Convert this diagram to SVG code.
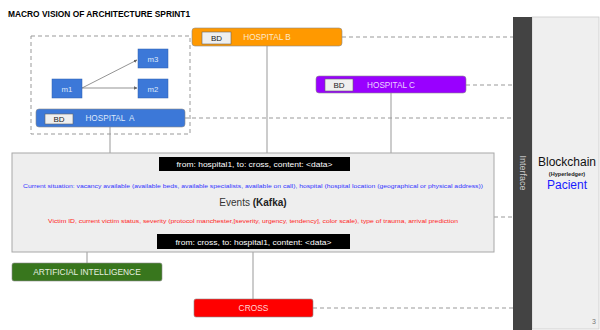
<svg xmlns="http://www.w3.org/2000/svg" width="600" height="330" viewBox="0 0 600 330">
  <defs>
    <style>
      text { font-family: "Liberation Sans", Arial, sans-serif; }
      .dash { stroke: #999999; stroke-width: 1; stroke-dasharray: 4 3; fill: none; }
      .link { stroke: #999999; stroke-width: 1; fill: none; }
      .box { stroke: #8a8a8a; stroke-width: 0.6; }
      .bd { fill: #efefef; stroke: #666666; stroke-width: 0.6; }
      .bdt { font-size: 8px; fill: #222222; text-anchor: middle; }
      .lbl { font-size: 8.2px; text-anchor: middle; }
      .mod { fill: #3c78d8; stroke: #2f5fae; stroke-width: 0.5; }
      .modt { font-size: 7.8px; fill: #dce8fb; text-anchor: middle; }
      .bar { fill: #000000; }
      .bart { font-size: 8px; fill: #ffffff; text-anchor: middle; }
    </style>
    <marker id="arr" viewBox="0 0 6 6" refX="5.5" refY="3" markerWidth="5" markerHeight="5" orient="auto">
      <path d="M0,0 L6,3 L0,6 z" fill="#666666"/>
    </marker>
  </defs>

  <rect width="600" height="330" fill="#ffffff"/>

  <!-- title -->
  <text x="8" y="17" font-size="8.4" font-weight="bold" fill="#000000">MACRO VISION OF ARCHITECTURE SPRINT1</text>

  <!-- connectors -->
  <g id="connectors">
    <rect x="31" y="36" width="159" height="98" class="dash"/>
    <line x1="342" y1="37" x2="513" y2="37" class="dash"/>
    <line x1="466" y1="85" x2="513" y2="85" class="dash"/>
    <line x1="185" y1="118" x2="513" y2="118" class="dash"/>
    <line x1="494" y1="217" x2="513" y2="217" class="dash"/>
    <line x1="313" y1="308" x2="513" y2="308" class="dash"/>
    <line x1="110" y1="127" x2="110" y2="153" class="link"/>
    <line x1="267" y1="46" x2="267" y2="153" class="link"/>
    <line x1="391" y1="93" x2="391" y2="153" class="link"/>
    <line x1="87" y1="252" x2="87" y2="263" class="link"/>
    <line x1="253" y1="252" x2="253" y2="299" class="link"/>
    <line x1="82" y1="88" x2="137" y2="60" stroke="#666666" stroke-width="0.7" marker-end="url(#arr)"/>
    <line x1="82" y1="88" x2="137" y2="88" stroke="#666666" stroke-width="0.7" marker-end="url(#arr)"/>
  </g>

  <!-- modules inside hospital A -->
  <g id="m1">
    <rect x="52" y="79" width="30" height="19" class="mod"/>
    <text x="67" y="91.5" class="modt">m1</text>
  </g>
  <g id="m3">
    <rect x="138" y="49" width="30" height="19" class="mod"/>
    <text x="153" y="61.5" class="modt">m3</text>
  </g>
  <g id="m2">
    <rect x="138" y="79" width="30" height="19" class="mod"/>
    <text x="153" y="91.5" class="modt">m2</text>
  </g>

  <!-- hospitals -->
  <g id="hospital-a">
    <rect x="36" y="109" width="149" height="18" rx="3" fill="#3c78d8" class="box"/>
    <rect x="45" y="114" width="28" height="10" class="bd"/>
    <text x="59" y="122" class="bdt">BD</text>
    <text x="110" y="121" class="lbl" fill="#dce8fb" xml:space="preserve">HOSPITAL  A</text>
  </g>
  <g id="hospital-b">
    <rect x="192" y="28" width="150" height="18" rx="3" fill="#ff9900" class="box"/>
    <rect x="202" y="32" width="29" height="12" class="bd"/>
    <text x="216.5" y="41" class="bdt">BD</text>
    <text x="267" y="40" class="lbl" fill="#fde9cc">HOSPITAL B</text>
  </g>
  <g id="hospital-c">
    <rect x="316" y="76" width="150" height="17" rx="3" fill="#9900ff" class="box"/>
    <rect x="325" y="79" width="28" height="12" class="bd"/>
    <text x="339" y="88" class="bdt">BD</text>
    <text x="391" y="87.5" class="lbl" fill="#ecd6ff">HOSPITAL C</text>
  </g>

  <!-- event bus -->
  <g id="events">
    <rect x="12" y="153" width="482" height="99" fill="#eeeeee" stroke="#a8a8a8" stroke-width="1"/>
    <rect x="159" y="157" width="191" height="14" class="bar"/>
    <text x="254.5" y="167" class="bart" textLength="156" lengthAdjust="spacingAndGlyphs">from: hospital1, to: cross, content: &lt;data&gt;</text>
    <text x="253" y="188" font-size="5.8" fill="#3333ff" text-anchor="middle" textLength="460" lengthAdjust="spacingAndGlyphs">Current situation: vacancy available (available beds, available specialists, available on call), hospital (hospital location (geographical or physical address))</text>
    <text x="253" y="206" font-size="10" fill="#333333" text-anchor="middle">Events <tspan font-weight="bold" fill="#222222">(Kafka)</tspan></text>
    <text x="253" y="223" font-size="5.8" fill="#ff2222" text-anchor="middle" textLength="410" lengthAdjust="spacingAndGlyphs">Victim ID, current victim status, severity (protocol manchester,[severity, urgency, tendency], color scale), type of trauma, arrival prediction</text>
    <rect x="157" y="234" width="193" height="15" class="bar"/>
    <text x="253.5" y="244.5" class="bart" textLength="156" lengthAdjust="spacingAndGlyphs">from: cross, to: hospital1, content: &lt;data&gt;</text>
  </g>

  <!-- outputs -->
  <g id="artificial-intelligence">
    <rect x="12" y="263" width="150" height="18" rx="2" fill="#38761d" class="box"/>
    <text x="87" y="275" font-size="8.4" fill="#e6f0e0" text-anchor="middle">ARTIFICIAL INTELLIGENCE</text>
  </g>
  <g id="cross">
    <rect x="194" y="299" width="119" height="18" rx="2" fill="#ff0000" class="box"/>
    <text x="253.5" y="311" font-size="8.4" fill="#ffd6d6" text-anchor="middle">CROSS</text>
  </g>

  <!-- blockchain side -->
  <g id="blockchain">
    <rect x="532" y="17" width="67" height="312" fill="#efefef" stroke="#cccccc" stroke-width="0.8"/>
    <text x="567" y="166" font-size="12" fill="#111111" text-anchor="middle">Blockchain</text>
    <text x="567" y="176" font-size="5.6" font-weight="bold" fill="#222222" text-anchor="middle">(Hyperledger)</text>
    <text x="567" y="189" font-size="12" fill="#1a1aff" text-anchor="middle">Pacient</text>
    <text x="596" y="324" font-size="7" fill="#777777" text-anchor="end">3</text>
  </g>
  <g id="interface">
    <rect x="513" y="17" width="19" height="313" fill="#434343"/>
    <text transform="translate(519.5,173) rotate(90)" font-size="9" fill="#d0d0d0" text-anchor="middle">Interface</text>
  </g>
</svg>
